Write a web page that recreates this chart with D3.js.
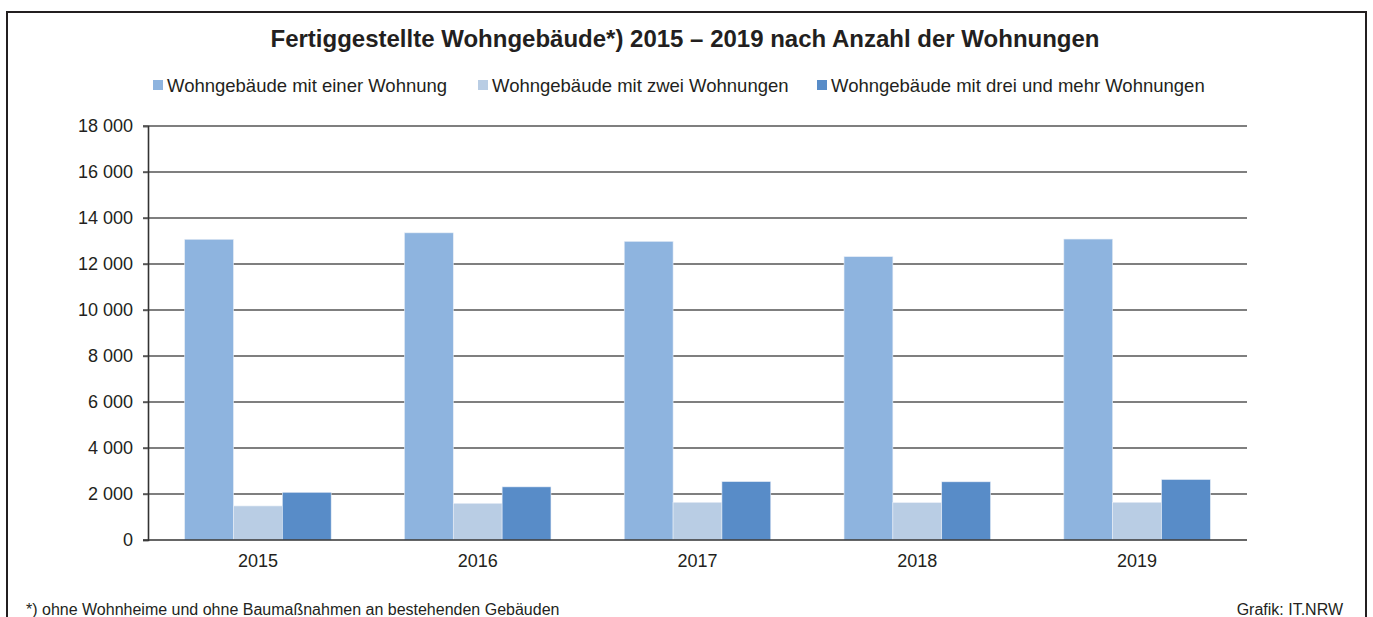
<!DOCTYPE html>
<html><head><meta charset="utf-8">
<script src="https://cdn.jsdelivr.net/npm/d3@7/dist/d3.min.js"></script>
<style>body{margin:0;background:#fff}svg{display:block;font-family:"Liberation Sans",Arial,sans-serif}</style>
</head><body><svg id="c" width="1373" height="617"></svg>
<script>
const years = ["2015","2016","2017","2018","2019"];
const seriesNames = ["Wohngebäude mit einer Wohnung","Wohngebäude mit zwei Wohnungen","Wohngebäude mit drei und mehr Wohnungen"];
const einer = [13075, 13355, 12985, 12320, 13085];
const zwei = [1480, 1595, 1640, 1625, 1640];
const dreiMehr = [2075, 2310, 2540, 2530, 2630];
const colors = ["#8eb4df","#b9cde4","#588cc8"];
const yTicks = [0,2000,4000,6000,8000,10000,12000,14000,16000,18000];
const title = "Fertiggestellte Wohngebäude*) 2015 – 2019 nach Anzahl der Wohnungen";
const footnote = "*) ohne Wohnheime und ohne Baumaßnahmen an bestehenden Gebäuden";
const source = "Grafik: IT.NRW";

const values = [einer, zwei, dreiMehr];
const svg = d3.select("#c");
svg.append("rect").attr("x",7).attr("y",12).attr("width",1359).attr("height",640)
  .attr("fill","none").attr("stroke","#231f20").attr("stroke-width",2);

svg.append("text").attr("x",685).attr("y",47).attr("text-anchor","middle")
  .attr("font-size",24).attr("font-weight","bold").attr("fill","#231f20").text(title);

const L = 148, R = 1247, T = 126, B = 540;
const y = d3.scaleLinear().domain([0,18000]).range([B,T]);
const x0 = d3.scaleBand().domain(years).range([L,R]).paddingInner(1/3).paddingOuter(1/6);
const x1 = d3.scaleBand().domain([0,1,2]).range([0,x0.bandwidth()]);

// gridlines
svg.append("g").selectAll("line").data(yTicks.slice(1)).join("line")
  .attr("x1",L-5).attr("x2",R).attr("y1",d=>y(d)).attr("y2",d=>y(d))
  .attr("stroke","#555").attr("stroke-width",1.4);

// bars
const g = svg.append("g");
years.forEach((yr,i)=>{
  values.forEach((arr,s)=>{
    g.append("rect").attr("x",x0(yr)+x1(s)).attr("width",x1.bandwidth())
      .attr("y",y(arr[i])).attr("height",B-y(arr[i]))
      .attr("fill",colors[s]).attr("stroke","#e8eef7").attr("stroke-width",0.6);
  });
});

// y axis
const yAxis = d3.axisLeft(y).tickValues(yTicks).tickSize(5).tickPadding(10)
  .tickFormat(d=>d3.format(",")(d).replace(/,/g," "));
const ya = svg.append("g").attr("transform",`translate(${L},0)`).call(yAxis);
ya.select(".domain").attr("stroke","#333").attr("stroke-width",1.6);
ya.selectAll(".tick line").attr("stroke","#555").attr("stroke-width",1.4);
ya.selectAll("text").attr("font-size",18).attr("fill","#231f20").attr("font-family","Liberation Sans, Arial, sans-serif");

// x axis
const xAxis = d3.axisBottom(x0).tickSize(0).tickPadding(14);
const xa = svg.append("g").attr("transform",`translate(0,${B})`).call(xAxis);
xa.select(".domain").remove();
xa.selectAll("text").attr("font-size",18).attr("fill","#231f20").attr("font-family","Liberation Sans, Arial, sans-serif");
svg.append("line").attr("x1",L-5).attr("x2",R).attr("y1",B).attr("y2",B).attr("stroke","#333").attr("stroke-width",1.6);

// legend
const legX = [153, 478, 817];
seriesNames.forEach((n,i)=>{
  svg.append("rect").attr("x",legX[i]).attr("y",80).attr("width",10).attr("height",10).attr("fill",colors[i]);
  svg.append("text").attr("x",legX[i]+14).attr("y",92).attr("font-size",18.5).attr("fill","#231f20").text(n);
});

svg.append("text").attr("x",26).attr("y",615).attr("font-size",16).attr("fill","#231f20").text(footnote);
svg.append("text").attr("x",1343).attr("y",615).attr("text-anchor","end").attr("font-size",16).attr("fill","#231f20").text(source);
</script></body></html>
